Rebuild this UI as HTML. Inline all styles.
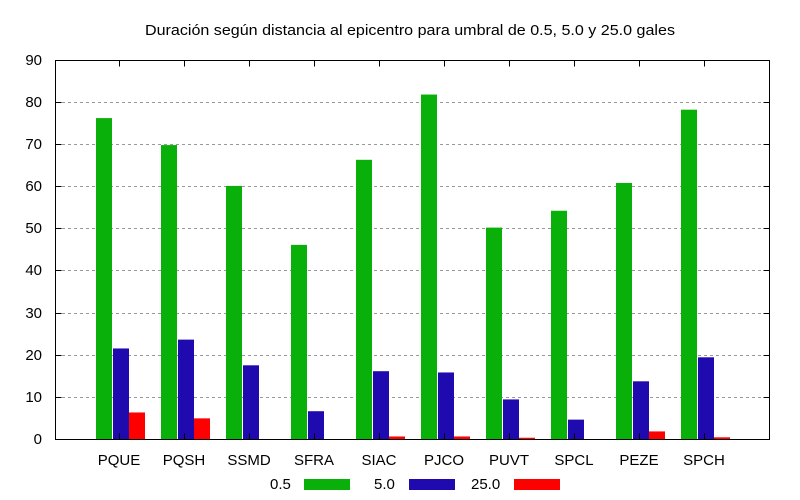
<!DOCTYPE html>
<html><head><meta charset="utf-8"><style>body{margin:0;background:#fff}svg{display:block}text{font-family:"Liberation Sans",sans-serif;font-size:15px;fill:#000}</style></head>
<body>
<svg width="800" height="500" xmlns="http://www.w3.org/2000/svg">
<text x="145" y="35" textLength="530" lengthAdjust="spacingAndGlyphs">Duración según distancia al epicentro para umbral de 0.5, 5.0 y 25.0 gales</text>
<g stroke="#999" stroke-dasharray="3,3" stroke-width="1">
<line x1="56" x2="769" y1="102.5" y2="102.5"/><line x1="56" x2="769" y1="144.5" y2="144.5"/>
<line x1="56" x2="769" y1="186.5" y2="186.5"/><line x1="56" x2="769" y1="228.5" y2="228.5"/>
<line x1="56" x2="769" y1="270.5" y2="270.5"/><line x1="56" x2="769" y1="313.5" y2="313.5"/>
<line x1="56" x2="769" y1="355.5" y2="355.5"/><line x1="56" x2="769" y1="397.5" y2="397.5"/>
</g>
<g id="bars"></g>
<g stroke="#000" stroke-width="1" fill="none">
<rect x="55.5" y="60.5" width="714" height="379"/>
<path d="M55.5 102.5h6M55.5 144.5h6M55.5 186.5h6M55.5 228.5h6M55.5 270.5h6M55.5 313.5h6M55.5 355.5h6M55.5 397.5h6M769.5 102.5h-6M769.5 144.5h-6M769.5 186.5h-6M769.5 228.5h-6M769.5 270.5h-6M769.5 313.5h-6M769.5 355.5h-6M769.5 397.5h-6"/>
<path id="xt" d=""/>
</g>
<g text-anchor="end">
<text x="42" y="65">90</text><text x="42" y="107">80</text><text x="42" y="149">70</text><text x="42" y="191">60</text><text x="42" y="233">50</text><text x="42" y="275">40</text><text x="42" y="318">30</text><text x="42" y="360">20</text><text x="42" y="402">10</text><text x="42" y="444">0</text>
</g>
<g id="labs" text-anchor="middle"></g>
<text x="270" y="489">0.5</text><rect x="304" y="479" width="46" height="11" fill="#0ab00a"/>
<text x="374" y="489">5.0</text><rect x="409" y="479" width="46" height="11" fill="#1e0aaf"/>
<text x="471" y="489">25.0</text><rect x="514" y="479" width="46" height="11" fill="#ff0000"/>
<script>
var d=[["PQUE",76.2,21.5,6.3],["PQSH",69.8,23.6,4.9],["SSMD",60.1,17.5,0],["SFRA",46.1,6.6,0],["SIAC",66.3,16.1,0.6],["PJCO",81.8,15.8,0.6],["PUVT",50.2,9.4,0.3],["SPCL",54.2,4.6,0],["PEZE",60.8,13.7,1.8],["SPCH",78.2,19.4,0.4]];
var ns="http://www.w3.org/2000/svg",b=document.getElementById("bars"),l=document.getElementById("labs"),p="";
var cols=["#0ab00a","#1e0aaf","#ff0000"],off=[-23,-6,10];
d.forEach(function(r,i){var c=119+65*i;
for(var k=0;k<3;k++){var h=r[k+1]*379/90;if(h<=0)continue;var e=document.createElementNS(ns,"rect");
e.setAttribute("x",c+off[k]);e.setAttribute("width",16);e.setAttribute("y",439-h);e.setAttribute("height",h);e.setAttribute("fill",cols[k]);b.appendChild(e);}
var t=document.createElementNS(ns,"text");t.setAttribute("x",c);t.setAttribute("y",465);t.textContent=r[0];l.appendChild(t);
p+="M"+(c+0.5)+" 439.5v-6M"+(c+0.5)+" 60.5v6";});
document.getElementById("xt").setAttribute("d",p);
</script>
</svg>
</body></html>
